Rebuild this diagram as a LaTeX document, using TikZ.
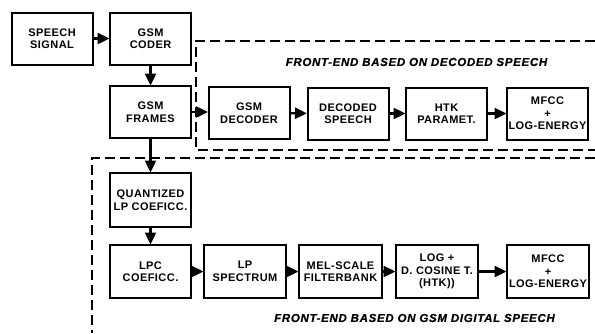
\documentclass[tikz,border=0pt]{standalone}
\usepackage{fontspec}
\setmainfont{Liberation Sans}
\usetikzlibrary{arrows.meta}
\newcommand{\blkfont}{\bfseries\fontsize{11}{12.5}\selectfont\addfontfeature{LetterSpace=4}}
\newcommand{\ttlfont}{\bfseries\itshape\fontsize{11.5}{13}\selectfont\addfontfeature{LetterSpace=6,FakeBold=0.6}}
\begin{document}
\begin{tikzpicture}[x=1pt,y=-1pt,
  blk/.style={draw, line width=2pt, minimum width=81pt, minimum height=52pt, align=center, inner sep=1pt, font=\blkfont},
  flow/.style={line width=2.4pt, -{Triangle[length=12pt,width=11pt]}, shorten >=-0.5pt},
  frame/.style={line width=1.8pt, dash pattern=on 10pt off 5pt},
  ttl/.style={font=\ttlfont}]
\useasboundingbox (0,0) rectangle (595,333);
\node[blk] (speech) at (52,38.5) {SPEECH\\SIGNAL};
\node[blk] (coder) at (150.5,38.5) {GSM\\CODER};
\node[blk] (frames) at (150.5,112) {GSM\\FRAMES};
\node[blk] (decoder) at (249,113) {GSM\\DECODER};
\node[blk] (decoded) at (348,113.5) {DECODED\\SPEECH};
\node[blk] (htk) at (446.5,113.5) {HTK\\PARAMET.};
\node[blk] (mfccA) at (547.5,113.5) {MFCC\\+\\LOG-ENERGY};
\node[blk, minimum height=54pt] (quant) at (150.5,200) {QUANTIZED\\LP COEFICC.};
\node[blk, minimum height=53pt] (lpc) at (150.5,271.5) {LPC\\COEFICC.};
\node[blk, minimum height=53pt, minimum width=82pt] (lpspec) at (245,271.5) {LP\\SPECTRUM};
\node[blk, minimum height=53pt, minimum width=83pt] (mel) at (340.5,271.5) {MEL-SCALE\\FILTERBANK};
\node[blk, minimum height=53pt, minimum width=82pt] (logdct) at (437,271.5) {LOG +\\D. COSINE T.\\(HTK))};
\node[blk, minimum height=53pt, minimum width=82pt] (mfccB) at (548,271.5) {MFCC\\+\\LOG-ENERGY};
\coordinate (ua) at (595,41);
\coordinate (ub) at (196,41);
\coordinate (uc) at (196,150);
\coordinate (ud) at (595,150);
\coordinate (la) at (595,158);
\coordinate (lb) at (92,158);
\coordinate (lc) at (92,333);
\draw[frame] (ua) -- (ub) -- (uc) -- (ud);
\draw[frame] (la) -- (lb) -- (lc);
\node[ttl] (t1) at (416.5,62) {FRONT-END BASED ON DECODED SPEECH};
\node[ttl] (t2) at (414.5,318) {FRONT-END BASED ON GSM DIGITAL SPEECH};
\draw[flow] (speech) -- (coder);
\draw[flow] (coder) -- (frames);
\draw[flow] (frames.east) -- (decoder.west |- frames.east);
\draw[flow] (decoder) -- (decoded);
\draw[flow] (decoded) -- (htk);
\draw[flow] (htk) -- (mfccA);
\draw[flow] (frames) -- (quant);
\draw[flow] (quant) -- (lpc);
\draw[flow] (lpc) -- (lpspec);
\draw[flow] (lpspec) -- (mel);
\draw[flow] (mel) -- (logdct);
\draw[flow] (logdct) -- (mfccB);
\end{tikzpicture}
\end{document}
